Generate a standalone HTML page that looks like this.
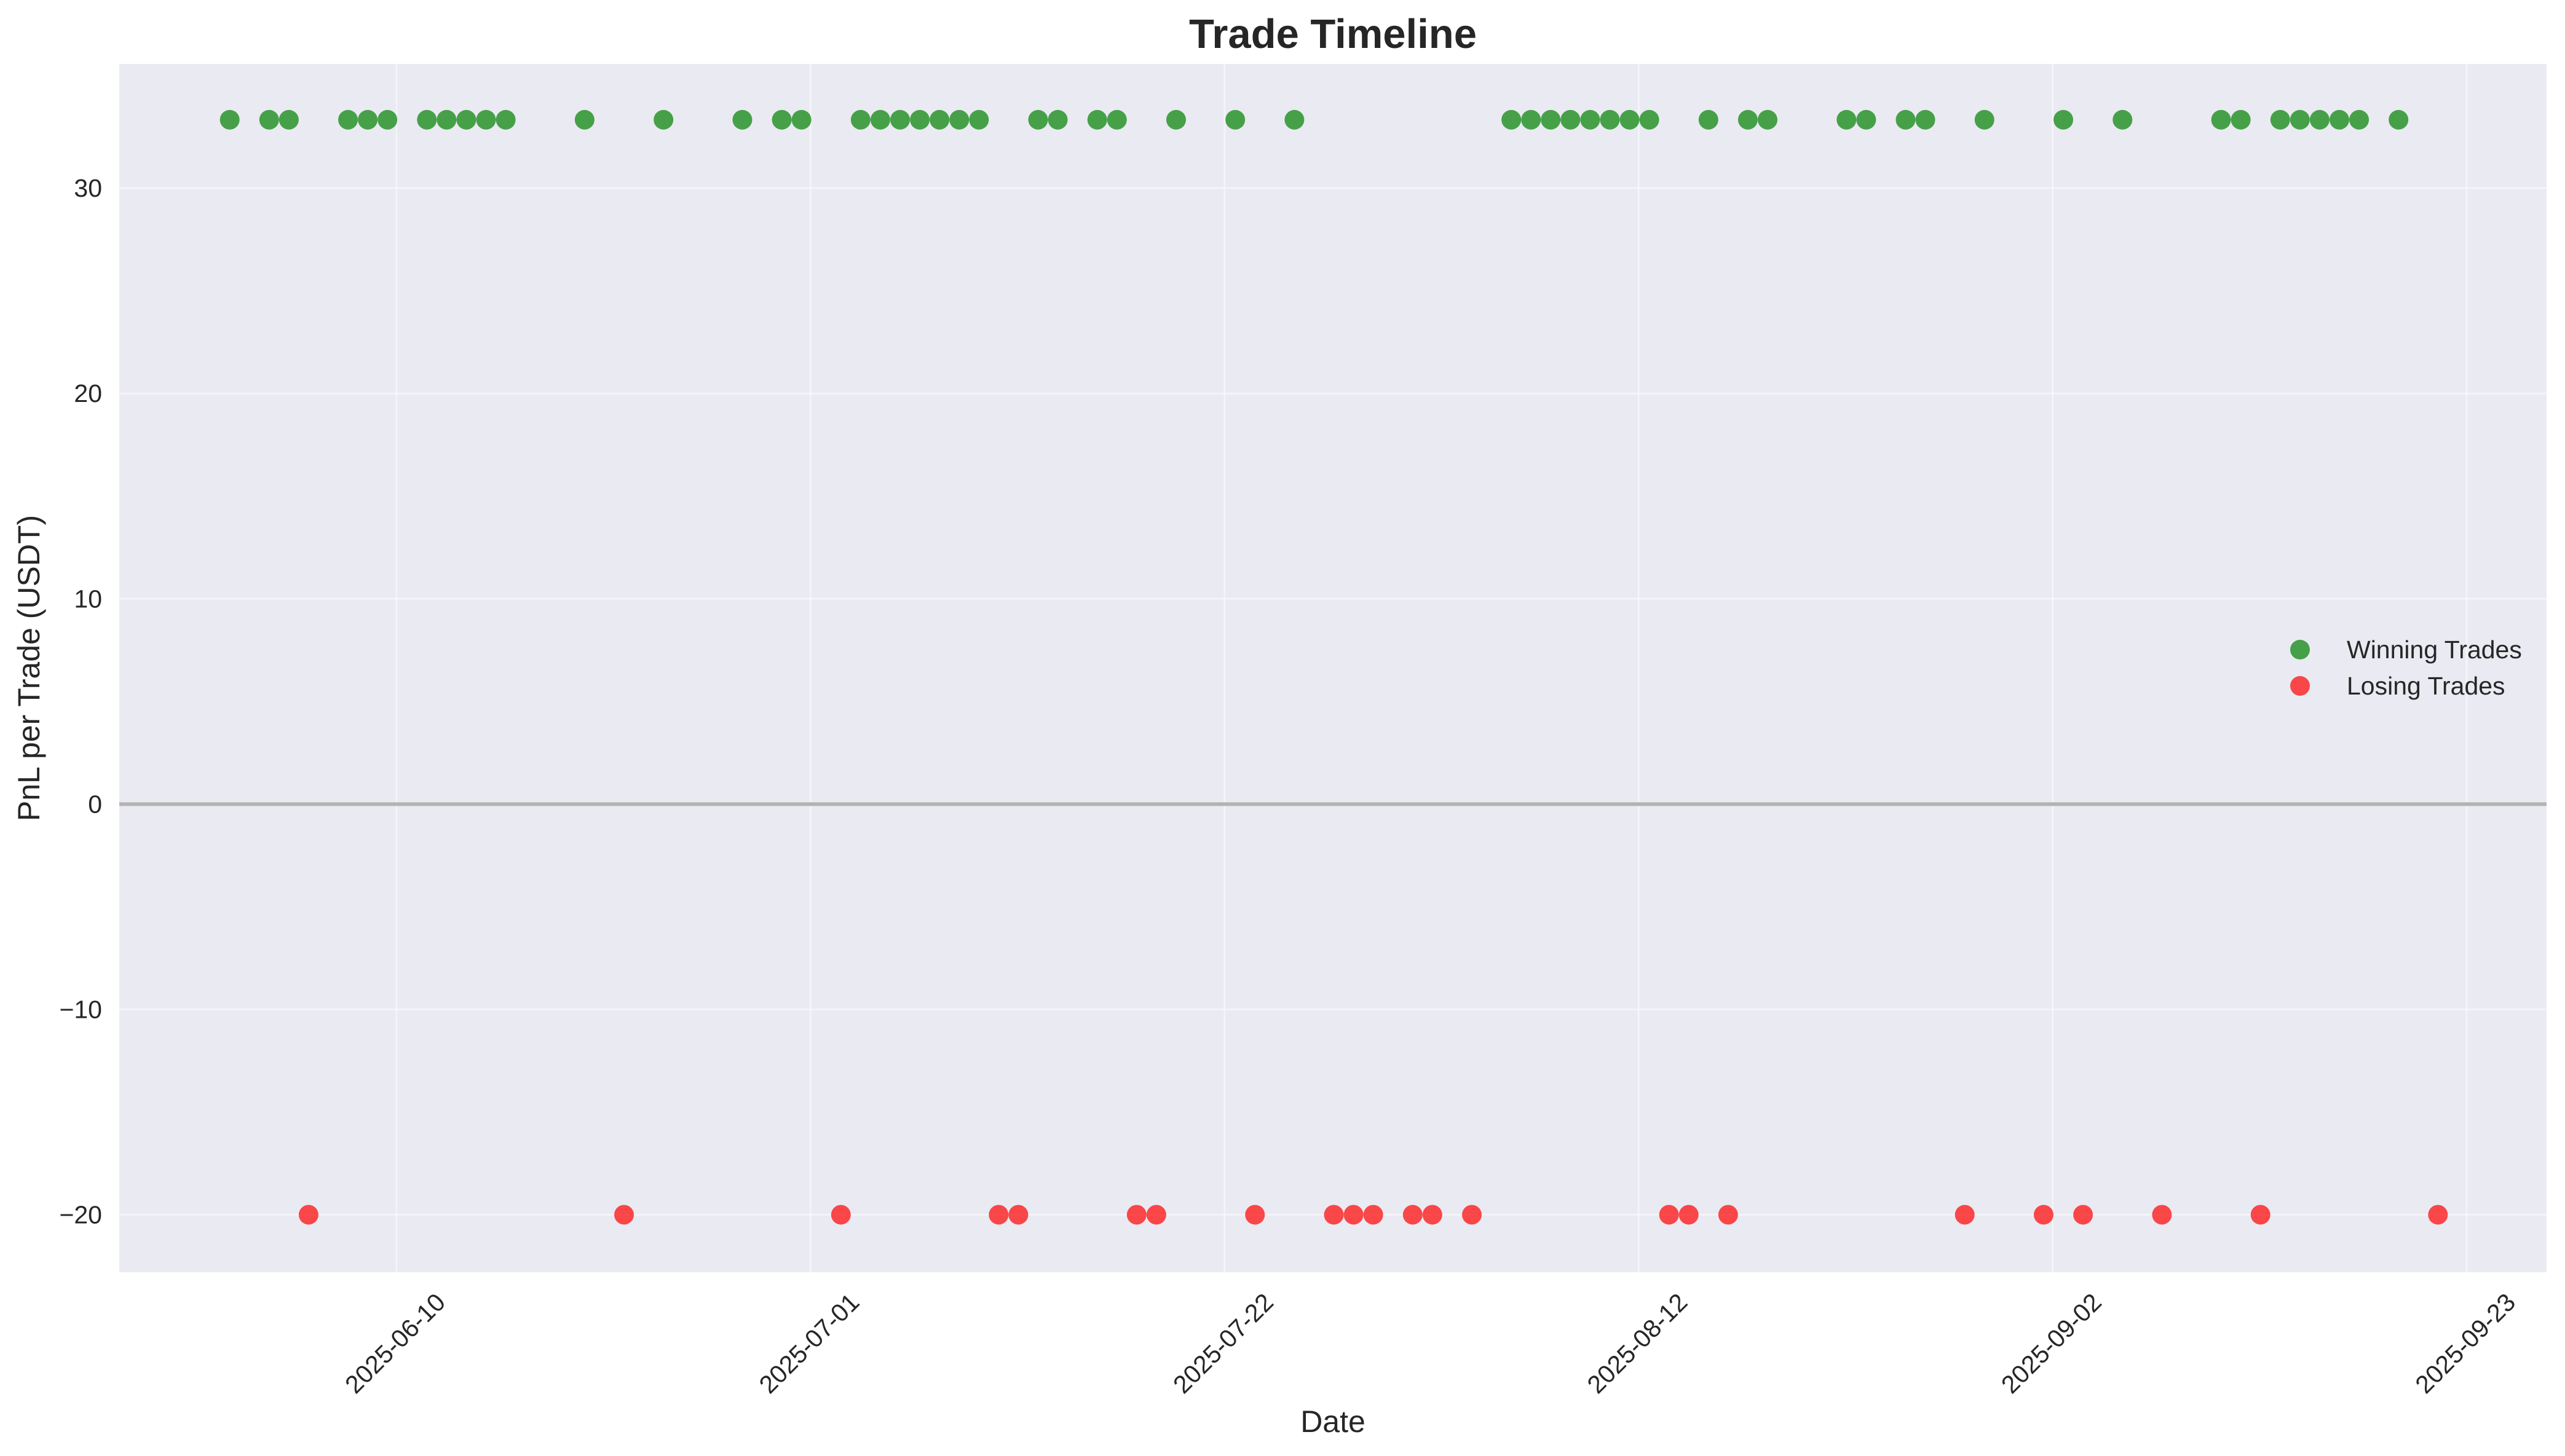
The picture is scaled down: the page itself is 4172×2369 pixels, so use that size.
<!DOCTYPE html>
<html><head><meta charset="utf-8"><style>
html,body{margin:0;padding:0;background:#fff;}
svg{display:block;font-family:"Liberation Sans",Arial,sans-serif;}
</style></head><body>
<svg id="chart" width="4172" height="2369" viewBox="0 0 4172 2369" xmlns="http://www.w3.org/2000/svg">
<rect x="0" y="0" width="4172" height="2369" fill="#ffffff"/>
<rect x="194" y="104" width="3948" height="1966" fill="#EAEAF2"/>
<g id="grid"></g>
<g id="ticks"></g>
<g id="marks"></g>
<text x="2168" y="78" text-anchor="middle" font-size="67" font-weight="bold" fill="#262626">Trade Timeline</text>
<text x="2168" y="2330" text-anchor="middle" font-size="50" fill="#262626">Date</text>
<text transform="translate(64,1087) rotate(-90)" text-anchor="middle" font-size="50" fill="#262626">PnL per Trade (USDT)</text>
<g>
  <g>
    <circle cx="3741" cy="1057" r="16" fill="rgb(70,160,73)"/>
    <text x="3817" y="1071" font-size="41" fill="#262626">Winning Trades</text>
  </g>
  <g>
    <circle cx="3741" cy="1116" r="16" fill="rgb(249,70,73)"/>
    <text x="3817" y="1130" font-size="41" fill="#262626">Losing Trades</text>
  </g>
</g>
</svg>
<script>
const winDates=["2025-06-01","2025-06-03","2025-06-04","2025-06-07","2025-06-08","2025-06-09","2025-06-11","2025-06-12","2025-06-13","2025-06-14","2025-06-15","2025-06-19","2025-06-23","2025-06-27","2025-06-29","2025-06-30","2025-07-03","2025-07-04","2025-07-05","2025-07-06","2025-07-07","2025-07-08","2025-07-09","2025-07-12","2025-07-13","2025-07-15","2025-07-16","2025-07-19","2025-07-22","2025-07-25","2025-08-05","2025-08-06","2025-08-07","2025-08-08","2025-08-09","2025-08-10","2025-08-11","2025-08-12","2025-08-15","2025-08-17","2025-08-18","2025-08-22","2025-08-23","2025-08-25","2025-08-26","2025-08-29","2025-09-02","2025-09-05","2025-09-10","2025-09-11","2025-09-13","2025-09-14","2025-09-15","2025-09-16","2025-09-17","2025-09-19"];
const winValues=winDates.map(()=>33.33);
const lossDates=["2025-06-05","2025-06-21","2025-07-02","2025-07-10","2025-07-11","2025-07-17","2025-07-18","2025-07-23","2025-07-27","2025-07-28","2025-07-29","2025-07-31","2025-08-01","2025-08-03","2025-08-13","2025-08-14","2025-08-16","2025-08-28","2025-09-01","2025-09-03","2025-09-07","2025-09-12","2025-09-21"];
const lossValues=lossDates.map(()=>-20);
const xTickLabels=["2025-06-10","2025-07-01","2025-07-22","2025-08-12","2025-09-02","2025-09-23"];
const yTickValues=[-20,-10,0,10,20,30];

const NS="http://www.w3.org/2000/svg";
const L=194,R=4142,T=104,B=2070;
const DAY=86400000, base=Date.UTC(2025,5,10);
const xMin=-14.06, xMax=109.05, yMin=-22.8, yMax=36.05;
function dayOf(s,hour){const p=s.split("-");return (Date.UTC(+p[0],+p[1]-1,+p[2])-base)/DAY+hour/24;}
function X(d){return L+(d-xMin)/(xMax-xMin)*(R-L);}
function Y(v){return B-(v-yMin)/(yMax-yMin)*(B-T);}
function el(tag,attrs,parent){const e=document.createElementNS(NS,tag);for(const k in attrs)e.setAttribute(k,attrs[k]);parent.appendChild(e);return e;}
const grid=document.getElementById("grid"),ticks=document.getElementById("ticks"),marks=document.getElementById("marks");
xTickLabels.forEach(s=>{
  const x=X(dayOf(s,0));
  const g=el("line",{x1:x,x2:x,y1:T,y2:B,stroke:"#ffffff","stroke-width":2.6,"stroke-opacity":0.5},grid);
  
  
  const t=el("text",{transform:`translate(${x},2188) rotate(-45)`,"text-anchor":"middle","dominant-baseline":"middle","font-size":41,fill:"#262626"},ticks);
  t.textContent=s;
  
  
});
yTickValues.forEach(v=>{
  const y=Y(v);
  const g=el("line",{x1:L,x2:R,y1:y,y2:y,stroke:"#ffffff","stroke-width":2.6,"stroke-opacity":0.5},grid);
  
  
  const t=el("text",{x:166,y:y+14,"text-anchor":"end","font-size":41,fill:"#262626"},ticks);
  t.textContent=v<0?"\u2212"+Math.abs(v):String(v);
  
  
});
const zl=el("line",{x1:L,x2:R,y1:Y(0),y2:Y(0),stroke:"#b3b3b3","stroke-width":6},grid);


winDates.forEach((s,i)=>{
  const c=el("circle",{cx:X(dayOf(s,13)),cy:Y(winValues[i]),r:16,fill:"rgb(0,128,0)","fill-opacity":0.7},marks);
  
  
});
lossDates.forEach((s,i)=>{
  const c=el("circle",{cx:X(dayOf(s,13)),cy:Y(lossValues[i]),r:16,fill:"rgb(255,0,0)","fill-opacity":0.7},marks);
  
  
});
</script>
</body></html>
